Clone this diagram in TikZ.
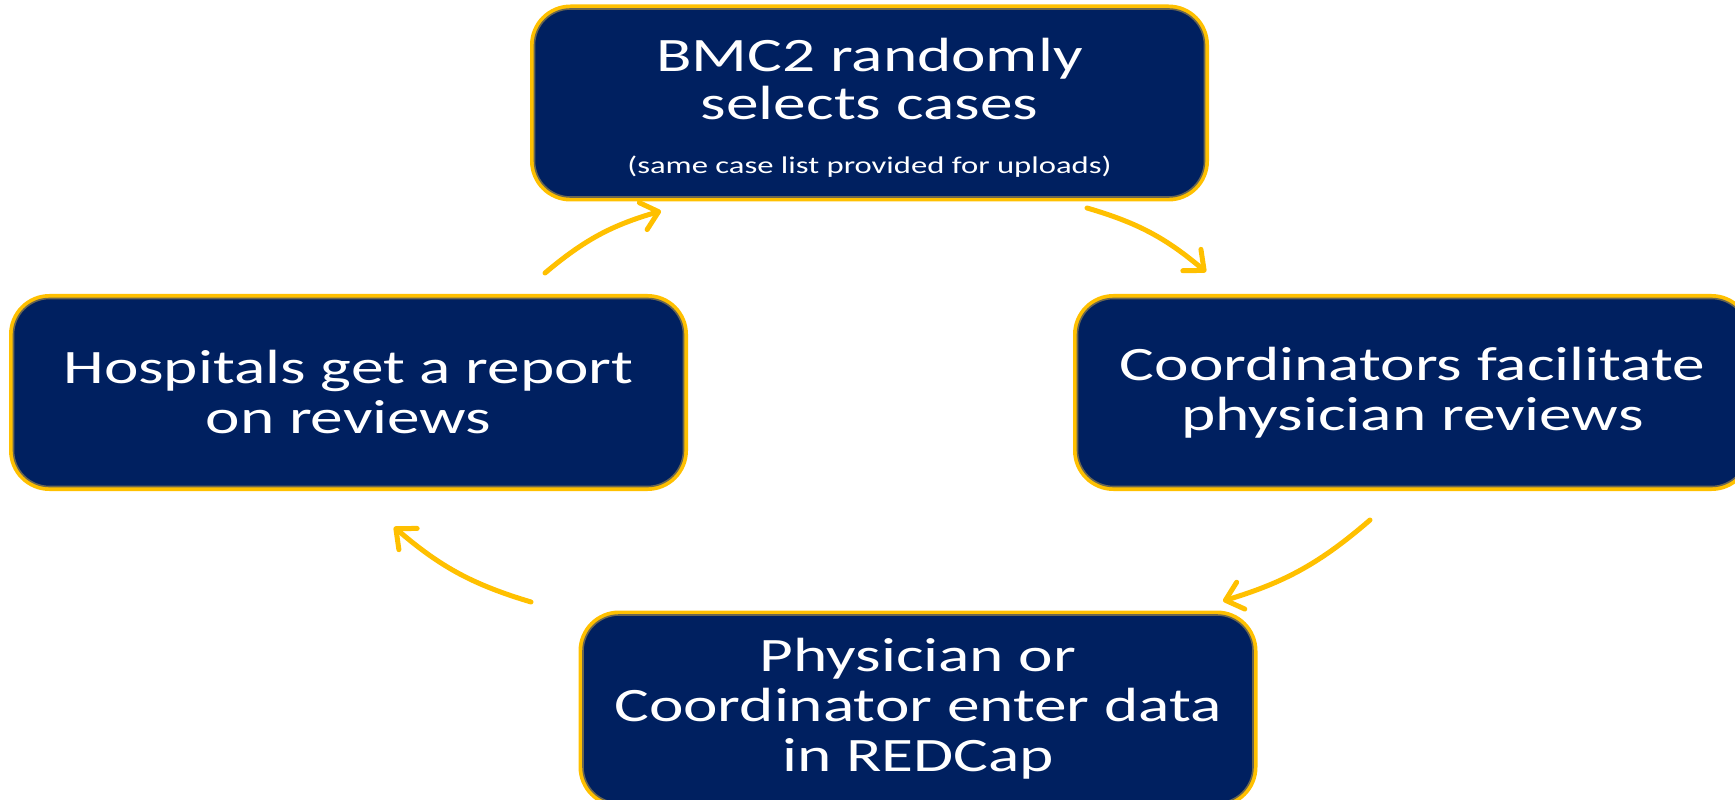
\documentclass[tikz,border=0pt]{standalone}
\usepackage{fontspec}
\setmainfont{Carlito}[FakeStretch=1.36]
\usetikzlibrary{arrows.meta}
\definecolor{navy}{HTML}{002060}
\definecolor{gold}{HTML}{FFC000}
\definecolor{rim}{HTML}{6B6650}
\begin{document}
\begin{tikzpicture}[
  box/.style={rounded corners=18pt, fill=navy, draw=rim, line width=0.8pt,
    preaction={draw=gold, line width=4.5pt},
    minimum width=335pt, minimum height=94pt, text=white, align=center,
    font=\fontsize{24}{25}\selectfont, inner sep=0pt},
  cyc/.style={draw=gold, line width=2.5pt, line cap=round,
    -{Straight Barb[length=8pt,width=14pt,round]}},
]
\useasboundingbox (0,0) rectangle (867.5pt,399.5pt);
\node[box] (top) at (434.75pt,348pt) {\renewcommand\arraystretch{0.95}\raisebox{-5pt}[\height][\depth]{\begin{tabular}{@{}c@{}}BMC2 randomly\\selects cases\\[3pt]{\fontsize{12}{13}\selectfont (same case list provided for uploads)}\end{tabular}}};
\node[box] (left) at (174.25pt,203.25pt) {Hospitals get a report\\on reviews};
\node[box] (right) at (706.25pt,203.25pt) {Coordinators facilitate\\physician reviews};
\node[box] (bottom) at (459pt,45pt) {Physician or\\Coordinator enter data\\in REDCap};
\coordinate (a1s) at (272.5pt,263pt);
\coordinate (a1e) at (330.5pt,294pt);
\coordinate (a2s) at (543.5pt,295.5pt);
\coordinate (a2e) at (603pt,263.5pt);
\coordinate (a3s) at (685pt,139.5pt);
\coordinate (a3e) at (611.5pt,99pt);
\coordinate (a4s) at (265.5pt,98.5pt);
\coordinate (a4e) at (197pt,136pt);
\draw[cyc] (a1s) to[bend left=12] (a1e);
\draw[cyc] (a2s) to[bend left=12] (a2e);
\draw[cyc] (a3s) to[bend left=12] (a3e);
\draw[cyc] (a4s) to[bend left=12] (a4e);
\end{tikzpicture}
\end{document}
